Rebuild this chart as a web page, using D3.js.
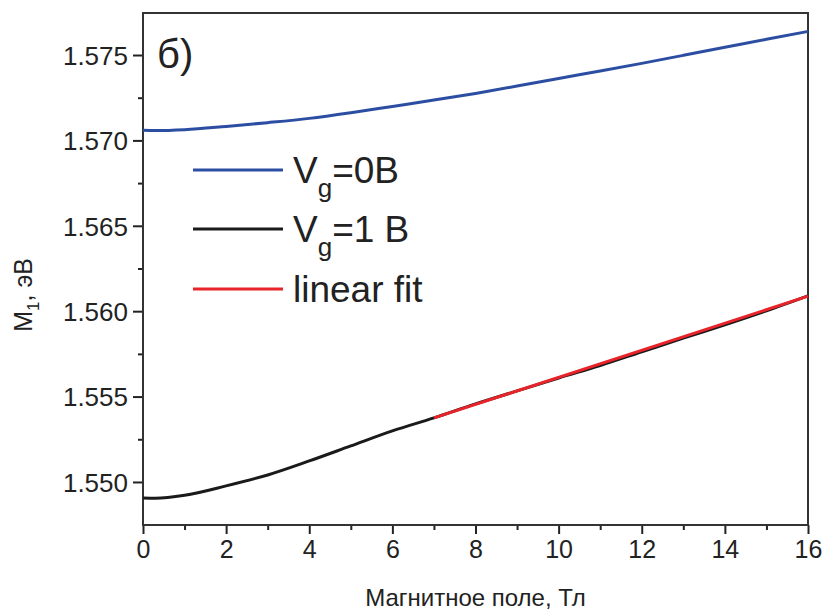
<!DOCTYPE html>
<html>
<head>
<meta charset="utf-8">
<script src="https://cdn.jsdelivr.net/npm/d3@7"></script>
<style>
  body { margin: 0; background: #fff; }
  svg { font-family: "Liberation Sans", Arial, sans-serif; }
</style>
</head>
<body>
<svg width="828" height="615"></svg>
<script>
// data
var fieldB = [0, 0.3, 1, 2, 3, 4, 5, 6, 7, 8, 9, 10, 11, 12, 13, 14, 15, 16];
var vg0 = [1.57059, 1.57058, 1.57063, 1.57082, 1.57104, 1.57129, 1.57162, 1.57199, 1.57236, 1.57275, 1.57318, 1.57363, 1.57406, 1.57451, 1.57498, 1.57545, 1.57592, 1.57638];
var vg1 = [1.54906, 1.54905, 1.54922, 1.54977, 1.55041, 1.55123, 1.55211, 1.55299, 1.55375, 1.55457, 1.55533, 1.55609, 1.55682, 1.55762, 1.55842, 1.55920, 1.56002, 1.56090];
var fitB = [7, 16];
var fitVals = [1.55375, 1.56088];
var xTicks = [0, 2, 4, 6, 8, 10, 12, 14, 16];
var yTicks = [1.550, 1.555, 1.560, 1.565, 1.570, 1.575];
var legendNames = ["=0B", "=1 B", "linear fit"];
var colors = ["#2c4ea2", "#1a1a1a", "#e8232a"];

var svg = d3.select("svg"),
    margin = {top: 13, right: 20, bottom: 90, left: 143},
    width = +svg.attr("width") - margin.left - margin.right,
    height = +svg.attr("height") - margin.top - margin.bottom;

var g = svg.append("g").attr("transform", "translate(" + margin.left + "," + margin.top + ")");

var x = d3.scaleLinear().domain([0, 16]).range([0, width]);
var y = d3.scaleLinear().domain([1.54748, 1.57746]).range([height, 0]);

// minor ticks first
g.append("g")
    .attr("transform", "translate(0," + height + ")")
    .call(d3.axisBottom(x).tickValues(d3.range(1, 16, 2)).tickSize(5).tickFormat(""))
    .call(function (a) { a.select(".domain").remove(); });
g.append("g")
    .call(d3.axisLeft(y).tickValues([1.5525, 1.5575, 1.5625, 1.5675, 1.5725]).tickSize(5).tickFormat(""))
    .call(function (a) { a.select(".domain").remove(); });

var xAxis = g.append("g")
    .attr("transform", "translate(0," + height + ")")
    .call(d3.axisBottom(x).tickValues(xTicks).tickSize(9).tickPadding(6).tickFormat(d3.format("d")));
xAxis.selectAll("text").attr("font-size", 25).attr("fill", "#222");

var yAxis = g.append("g")
    .call(d3.axisLeft(y).tickValues(yTicks).tickSize(10).tickPadding(5).tickFormat(d3.format(".3f")));
yAxis.selectAll("text").attr("font-size", 26).attr("fill", "#222").attr("dy", "0.36em");

svg.selectAll(".domain").remove();
svg.selectAll(".tick line").attr("stroke", "#222").attr("stroke-width", 2);

// frame
g.append("rect")
    .attr("width", width).attr("height", height)
    .attr("fill", "none").attr("stroke", "#333").attr("stroke-width", 2);

var line = d3.line()
    .x(function (d) { return x(d[0]); })
    .y(function (d) { return y(d[1]); })
    .curve(d3.curveMonotoneX);

g.append("path")
    .datum(d3.zip(fieldB, vg0))
    .attr("fill", "none").attr("stroke", colors[0]).attr("stroke-width", 3)
    .attr("d", line);
g.append("path")
    .datum(d3.zip(fieldB, vg1))
    .attr("fill", "none").attr("stroke", colors[1]).attr("stroke-width", 3)
    .attr("d", line);
g.append("path")
    .datum(d3.zip(fitB, fitVals))
    .attr("fill", "none").attr("stroke", colors[2]).attr("stroke-width", 3)
    .attr("d", line);

// legend
var legY = [170, 229, 289];
legendNames.forEach(function (name, i) {
    svg.append("line")
        .attr("x1", 193).attr("x2", 283)
        .attr("y1", legY[i]).attr("y2", legY[i])
        .attr("stroke", colors[i]).attr("stroke-width", 3);
    var t = svg.append("text")
        .attr("x", 293).attr("y", legY[i] + 13)
        .attr("font-size", 37).attr("fill", "#222");
    if (i < 2) {
        t.append("tspan").text("V");
        t.append("tspan").attr("font-size", 26).attr("dy", 14).text("g");
        t.append("tspan").attr("dy", -14).text(name);
    } else {
        t.text(name);
    }
});

// panel label
svg.append("text")
    .attr("x", 157).attr("y", 68)
    .attr("font-size", 40).attr("fill", "#222")
    .text("б)");

// axis titles
svg.append("text")
    .attr("x", margin.left + width / 2).attr("y", 606)
    .attr("text-anchor", "middle")
    .attr("font-size", 24).attr("fill", "#222")
    .text("Магнитное поле, Тл");

var yl = svg.append("text")
    .attr("transform", "translate(32,295) rotate(-90)")
    .attr("text-anchor", "middle")
    .attr("font-size", 25).attr("fill", "#222");
yl.append("tspan").text("M");
yl.append("tspan").attr("font-size", 17).attr("dy", 7).text("1");
yl.append("tspan").attr("dy", -7).text(", эВ");
</script>
</body>
</html>
